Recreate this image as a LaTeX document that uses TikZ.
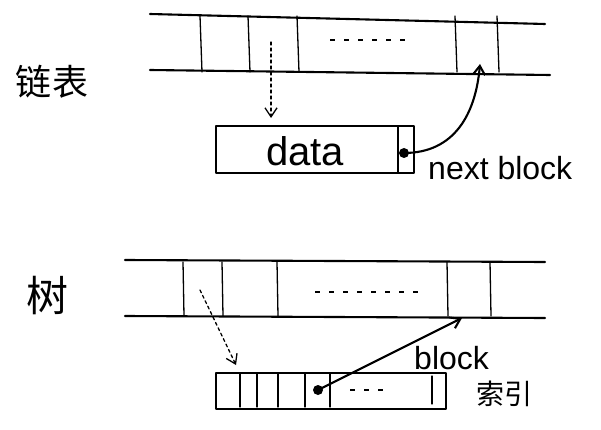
\documentclass[tikz,border=0pt]{standalone}
\usepackage{fontspec}
\setmainfont{Liberation Sans}
\newfontfamily\cjk{Noto Sans CJK SC}
\usetikzlibrary{arrows.meta}
\begin{document}
\begin{tikzpicture}[x=1pt,y=-1pt,
  ink/.style={line width=2.1pt,line cap=round,line join=round},
  thin/.style={line width=1.3pt,line cap=round},
  gap/.style={line width=1.3pt,dash pattern=on 5pt off 9pt},
  arr/.style={ink,-{Straight Barb[length=9pt,width=12pt]}},
  darr/.style={thin,dashed,-{Straight Barb[length=9pt,width=12pt]}},
  lbl/.style={font=\fontsize{32}{34}\selectfont,inner sep=0pt},
  cjklbl/.style={font=\cjk\fontsize{36}{38}\selectfont,inner sep=0pt}]
\useasboundingbox (0,0) rectangle (601,430);

% ---------- linked list ----------
\node[cjklbl] (ll) at (52,82) {链表};
\draw[ink] (150,14) -- (545,24);
\draw[ink] (150,70) -- (550,75);
\foreach \x in {200,248,297,455,497}
  \draw[thin] (\x,16) -- (\x+2,72);
\draw[gap] (330,40) -- (410,40);
\coordinate (src1) at (271,42);
\coordinate (dst1) at (271,118);
\draw[darr] (src1) -- (dst1);

\node[draw,ink,minimum width=182pt,minimum height=47pt,anchor=north west,inner sep=0pt] (data) at (215,125) {};
\node[lbl,font=\fontsize{40}{42}\selectfont] (dtxt) at (305,151) {data};
\node[draw,ink,minimum width=16pt,minimum height=47pt,anchor=north west,inner sep=0pt] (ptr) at (397,125) {};
\fill (404,153) circle (5pt) coordinate (dot1);
\coordinate (tgt1) at (480,64);
\draw[arr] (dot1) to[out=0,in=-95,looseness=1.1] (tgt1);
\node[lbl,anchor=west] (nb) at (428,168) {next block};

% ---------- tree ----------
\node[cjklbl,font=\cjk\fontsize{42}{44}\selectfont] (tr) at (47,296) {树};
\draw[ink] (125,260) -- (545,262);
\draw[ink] (125,316) -- (545,318);
\foreach \x in {183,222,277,447,490}
  \draw[thin] (\x,262) -- (\x+1,316);
\draw[gap] (315,292) -- (420,292);
\coordinate (src2) at (200,290);
\coordinate (dst2) at (236,365);
\draw[darr] (src2) -- (dst2);

\node[draw,ink,minimum width=230pt,minimum height=36pt,anchor=north west,inner sep=0pt] (idx) at (215,372) {};
\foreach \x in {240,257,278,305,330}
  \draw[thin] (\x,373) -- (\x,407);
\draw[thin] (432,376) -- (432,404);
\draw[gap] (350,390) -- (385,390);
\fill (318,390) circle (5pt) coordinate (dot2);
\coordinate (tgt2) at (462,318);
\draw[arr] (dot2) -- (tgt2);
\node[lbl,anchor=west] (blk) at (414,358) {block};
\node[cjklbl,font=\cjk\fontsize{28}{30}\selectfont,anchor=west] (sy) at (476,394) {索引};
\end{tikzpicture}
\end{document}
